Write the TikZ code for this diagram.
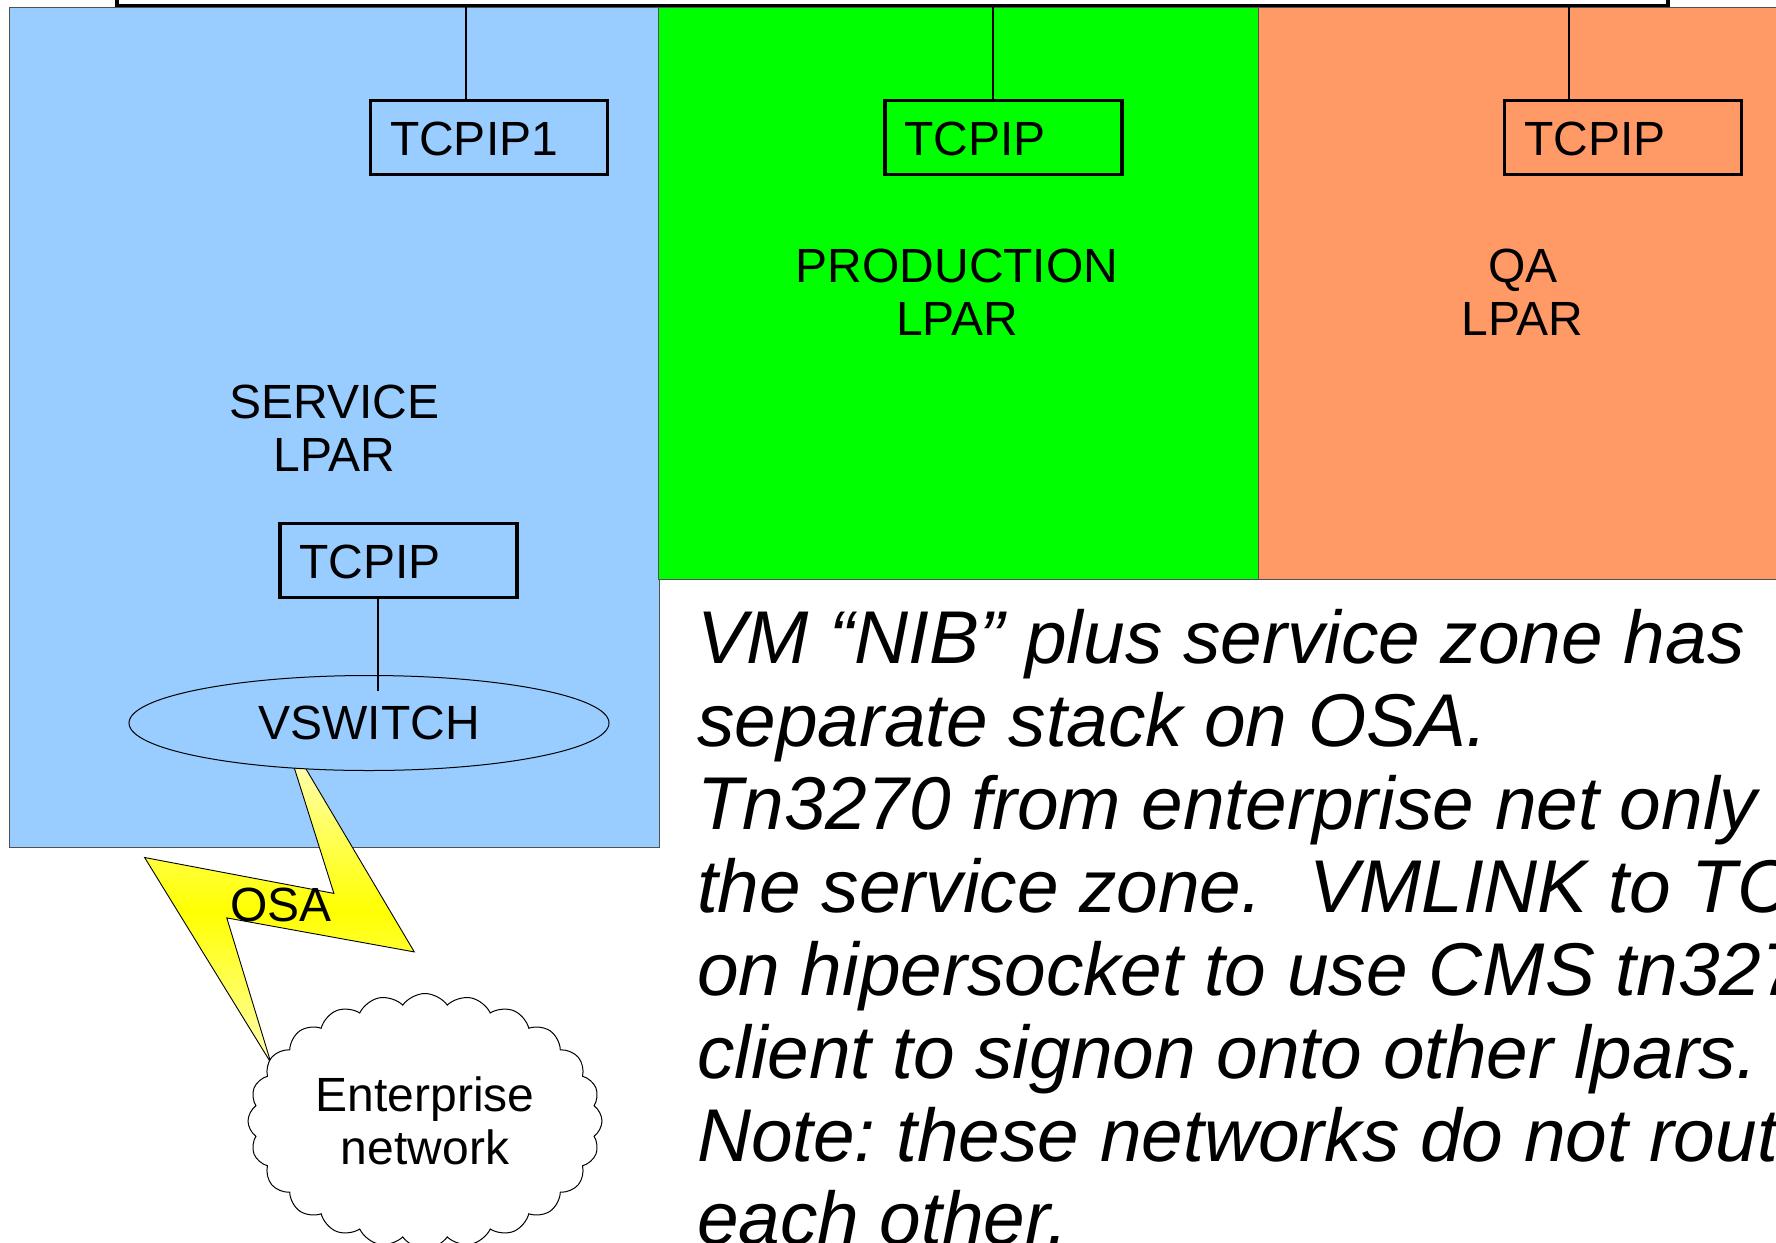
\documentclass[tikz,border=0pt]{standalone}
\usepackage{fontspec}
\setmainfont{Liberation Sans}
\usetikzlibrary{shapes.geometric,shapes.symbols}
\definecolor{lparblue}{HTML}{99CCFF}
\definecolor{lpargreen}{HTML}{00FF00}
\definecolor{lparorange}{HTML}{FF9966}
\definecolor{rimgray}{HTML}{505050}
\definecolor{boltpale}{HTML}{FFFFB0}
\frenchspacing
\begin{document}
\begin{tikzpicture}[x=1pt,y=-1pt,
  every node/.style={outer sep=0pt},
  lparzone/.style={draw=rimgray, line width=1pt},
  wire/.style={draw=black, line width=1.2pt},
  tcpbox/.style={draw=black, line width=3.8pt, minimum width=237pt, minimum height=74pt,
    inner xsep=19.5pt, inner ysep=0pt, text width=198pt, align=left,
    text height=35pt, text depth=0pt, font=\fontsize{48}{53}\selectfont},
  lparlabel/.style={align=center, inner sep=0pt, font=\fontsize{48}{53.3}\selectfont},
  notetext/.style={anchor=base west, inner sep=0pt, font=\itshape\fontsize{74.8}{83}\selectfont}
]
\useasboundingbox (0,0) rectangle (1776,1242);
\fill[white] (0,0) rectangle (1776,1242);

% LPAR zones
\draw[lparzone, fill=lparblue] (9,7) rectangle (659,847);
\draw[lparzone, fill=lpargreen] (658,7) rectangle (1258,579);
\draw[lparzone, fill=lparorange] (1258,7) rectangle (1800,579);

% top bar
\node[draw=black, line width=3.5pt, fill=white, minimum width=1551pt, minimum height=40pt, inner sep=0pt] (bar) at (892.5,-14.5) {};

% TCPIP boxes
\node[tcpbox] (t1) at (489,137.5) {TCPIP1};
\node[tcpbox] (t2) at (1003.5,137.5) {TCPIP};
\node[tcpbox] (t3) at (1623,137.5) {TCPIP};
\node[tcpbox] (t4) at (398.5,560.5) {TCPIP};

\coordinate (c1) at (466,0);
\coordinate (c2) at (993,0);
\coordinate (c3) at (1569,0);
\draw[wire] (bar.south -| c1) -- (t1.north -| c1);
\draw[wire] (bar.south -| c2) -- (t2.north -| c2);
\draw[wire] (bar.south -| c3) -- (t3.north -| c3);

% LPAR labels
\node[lparlabel] (svc) at (334.5,428.3) {SERVICE\\LPAR};
\node[lparlabel] (prod) at (957,292.2) {PRODUCTION\\LPAR};
\node[lparlabel] (qa) at (1522.7,292.2) {QA\\LPAR};

% OSA lightning bolt
\shade[top color=boltpale, bottom color=boltpale, middle color=yellow]
  (291.8,760) -- (333.9,893.4) -- (144.6,857.5) -- (271,1063) -- (226.8,917.9) -- (414.3,951.9) -- (300.7,760) -- cycle;
\draw[black, line width=0.9pt, line join=miter]
  (291.8,760) -- (333.9,893.4) -- (144.6,857.5) -- (271,1063) -- (226.8,917.9) -- (414.3,951.9) -- (300.7,760);
\node[anchor=base, inner sep=0pt, font=\fontsize{48}{53}\selectfont] (osa) at (281,921.7) {OSA};

% VSWITCH
\node[ellipse, draw=black, line width=1pt, fill=lparblue, minimum width=480pt, minimum height=95pt, inner sep=0pt, font=\fontsize{48}{53}\selectfont] (vs) at (369,723) {VSWITCH};
\coordinate (vsin) at (378,691);
\draw[wire] (t4.south -| vsin) -- (vsin);

% Enterprise network cloud
\node[cloud, cloud puffs=24, cloud puff arc=110, cloud ignores aspect, draw=black, line width=1pt, fill=white,
  minimum width=354pt, minimum height=255pt, inner sep=0pt, align=center, font=\fontsize{48}{53.6}\selectfont] (net) at (425,1121) {Enterprise\\network};

% note text
\node[notetext] (n1) at (697,663) {VM “NIB” plus service zone has};
\node[notetext] (n2) at (697,746) {separate stack on OSA.};
\node[notetext] (n3) at (697,829) {Tn3270 from enterprise net only};
\node[notetext] (n4) at (697,912) {the service zone.\hspace{47pt}VMLINK to TCPIP};
\node[notetext] (n5) at (697,995) {on hipersocket to use CMS tn3270};
\node[notetext] (n6) at (697,1078) {client to signon onto other lpars.};
\node[notetext] (n7) at (697,1161) {Note: these networks do not route};
\node[notetext] (n8) at (697,1244) {each other.};
\end{tikzpicture}
\end{document}
